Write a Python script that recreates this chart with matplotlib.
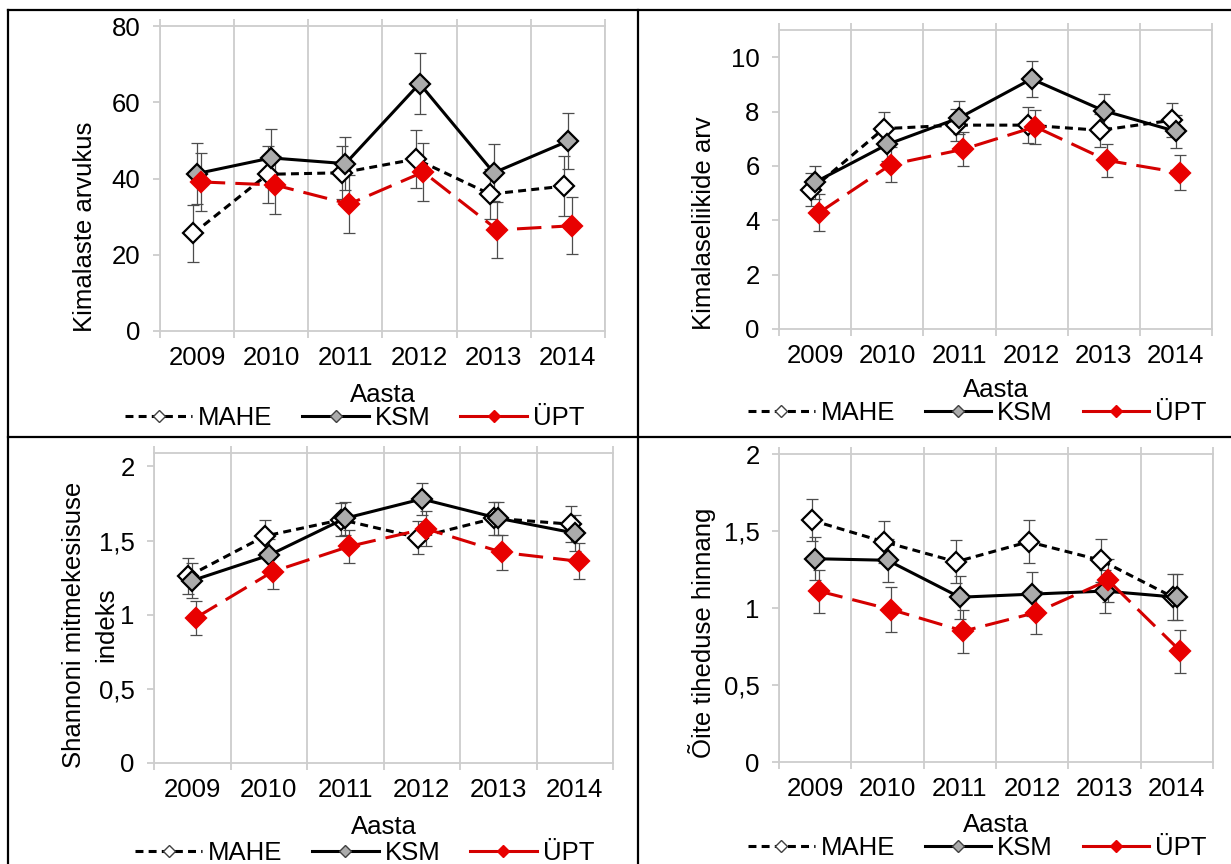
import numpy as np
import matplotlib
matplotlib.use("Agg")
import matplotlib.pyplot as plt
from matplotlib.lines import Line2D

plt.rcParams['font.family'] = ['Liberation Sans', 'DejaVu Sans']

years = ['2009', '2010', '2011', '2012', '2013', '2014']
series_names = ['MAHE', 'KSM', 'ÜPT']

# Kimalaste arvukus
mahe_arv = [25.6, 41.1, 41.5, 45.1, 35.9, 38.0]
ksm_arv = [41.3, 45.4, 43.9, 64.9, 41.5, 49.8]
upt_arv = [39.1, 38.3, 33.3, 41.7, 26.5, 27.6]
mahe_arv_se = [7.5, 7.5, 7.0, 7.7, 6.5, 7.9]
ksm_arv_se = [8.0, 7.7, 7.0, 7.9, 7.5, 7.3]
upt_arv_se = [7.6, 7.7, 7.7, 7.5, 7.3, 7.5]

# Kimalaseliikide arv
mahe_liik = [5.13, 7.37, 7.50, 7.50, 7.31, 7.68]
ksm_liik = [5.40, 6.79, 7.77, 9.20, 8.03, 7.27]
upt_liik = [4.27, 6.05, 6.61, 7.44, 6.20, 5.75]
mahe_liik_se = [0.62, 0.62, 0.60, 0.65, 0.60, 0.62]
ksm_liik_se = [0.60, 0.60, 0.60, 0.65, 0.60, 0.62]
upt_liik_se = [0.68, 0.65, 0.63, 0.63, 0.60, 0.64]

# Shannoni mitmekesisuse indeks
mahe_sh = [1.26, 1.53, 1.64, 1.52, 1.65, 1.61]
ksm_sh = [1.23, 1.40, 1.65, 1.78, 1.65, 1.55]
upt_sh = [0.98, 1.29, 1.46, 1.58, 1.42, 1.36]
mahe_sh_se = [0.12, 0.11, 0.11, 0.11, 0.11, 0.12]
ksm_sh_se = [0.12, 0.11, 0.11, 0.11, 0.11, 0.12]
upt_sh_se = [0.115, 0.12, 0.11, 0.12, 0.12, 0.12]

# Õite tiheduse hinnang
mahe_oie = [1.57, 1.43, 1.30, 1.43, 1.31, 1.07]
ksm_oie = [1.32, 1.31, 1.07, 1.09, 1.11, 1.07]
upt_oie = [1.11, 0.99, 0.85, 0.97, 1.18, 0.72]
mahe_oie_se = [0.135, 0.135, 0.14, 0.14, 0.14, 0.15]
ksm_oie_se = [0.14, 0.14, 0.14, 0.145, 0.14, 0.15]
upt_oie_se = [0.14, 0.145, 0.14, 0.14, 0.14, 0.14]

ticks_arv = [0, 20, 40, 60, 80]
ticks_liik = [0, 2, 4, 6, 8, 10]
ticks_idx = [0, 0.5, 1, 1.5, 2]
ticklabels_idx = ['0', '0,5', '1', '1,5', '2']

GRID = '#CDCDCD'
RED_LINE = '#D40000'
RED_FILL = '#E80000'
FS = 18.5

styles = [
    dict(color='black', dashes=(2.6, 1.7), leg_dashes=(2.6, 1.7),
         mfc='white', mec='black', leg_mec='#404040', off=-0.05, z=3),
    dict(color='black', dashes=None, leg_dashes=None,
         mfc='#ABABAB', mec='black', leg_mec='#404040', off=0.0, z=4),
    dict(color=RED_LINE, dashes=(8, 3.3), leg_dashes=None,
         mfc=RED_FILL, mec=RED_FILL, leg_mec=RED_FILL, off=0.05, z=5),
]


def draw_panel(ax, values, errors, ylim, yticks, yticklabels, ylabel,
               ylab_pos, leg_pos, aasta_y):
    x = np.arange(len(years)) + 0.5
    for vals, err, st in zip(values, errors, styles):
        xs = x + st['off']
        ax.errorbar(xs, vals, yerr=err, fmt='none', ecolor='#4D4D4D',
                    elinewidth=0.9, capsize=4, capthick=0.9, zorder=2)
        line, = ax.plot(xs, vals, color=st['color'], lw=2.2, marker='D',
                        ms=10.5, mfc=st['mfc'], mec=st['mec'], mew=1.6,
                        zorder=st['z'])
        if st['dashes']:
            line.set_dashes(st['dashes'])

    ax.set_xlim(0, len(years))
    ax.set_ylim(*ylim)
    ax.set_xticks(np.arange(len(years) + 1))
    ax.set_xticks(x, minor=True)
    ax.set_xticklabels([])
    ax.set_xticklabels(years, minor=True)
    ax.grid(axis='x', which='major', color=GRID, lw=1.3)
    ax.tick_params(axis='x', which='major', length=5, color=GRID, width=1.3,
                   top=True)
    ax.tick_params(axis='x', which='minor', length=0, pad=11, labelsize=FS)
    ax.set_yticks(yticks)
    ax.set_yticklabels(yticklabels)
    ax.tick_params(axis='y', length=5, color=GRID, width=1.3, pad=9,
                   labelsize=FS)
    for sp in ax.spines.values():
        sp.set_color(GRID)
        sp.set_linewidth(1.3)

    ax.set_ylabel(ylabel, fontsize=FS)
    ax.yaxis.set_label_coords(*ylab_pos)
    ax.yaxis.label.set_va('center')
    ax.set_xlabel('Aasta', fontsize=FS)
    ax.xaxis.set_label_coords(0.5, aasta_y)
    ax.xaxis.label.set_va('center')

    handles = []
    for st in styles:
        h = Line2D([], [], color=st['color'], lw=2.2, marker='D', ms=6,
                   mfc=st['mfc'], mec=st['leg_mec'], mew=1.0)
        if st['leg_dashes']:
            h.set_dashes(st['leg_dashes'])
        handles.append(h)
    ax.legend(handles, series_names, loc='center', bbox_to_anchor=leg_pos,
              ncol=3, frameon=False, fontsize=FS, handlelength=2.6,
              handletextpad=0.23, columnspacing=1.15, borderaxespad=0)


W, H = 1231, 864
fig = plt.figure(figsize=(W / 100, H / 100), dpi=100)


def box(l, r, t, b):
    return [l / W, 1 - b / H, (r - l) / W, (b - t) / H]


ax1 = fig.add_axes(box(160, 605, 26, 331))
ax2 = fig.add_axes(box(779, 1212, 30, 329))
ax3 = fig.add_axes(box(154, 613, 453, 763))
ax4 = fig.add_axes(box(779, 1213, 454, 762))

draw_panel(ax1, [mahe_arv, ksm_arv, upt_arv],
           [mahe_arv_se, ksm_arv_se, upt_arv_se],
           (0, 80), ticks_arv, [str(t) for t in ticks_arv],
           'Kimalaste arvukus', (-0.169, 0.341), (0.438, -0.285), -0.21)
draw_panel(ax2, [mahe_liik, ksm_liik, upt_liik],
           [mahe_liik_se, ksm_liik_se, upt_liik_se],
           (0, 11), ticks_liik, [str(t) for t in ticks_liik],
           'Kimalaseliikide arv', (-0.173, 0.355), (0.458, -0.281), -0.204)
draw_panel(ax3, [mahe_sh, ksm_sh, upt_sh],
           [mahe_sh_se, ksm_sh_se, upt_sh_se],
           (0, 2.09), ticks_idx, ticklabels_idx,
           'Shannoni mitmekesisuse', (-0.174, 0.445), (0.459, -0.29), -0.206)
# second line of the Shannon axis title
ax3.text(-0.105, 0.445, 'indeks', transform=ax3.transAxes, rotation=90,
         ha='center', va='center', fontsize=FS)
draw_panel(ax4, [mahe_oie, ksm_oie, upt_oie],
           [mahe_oie_se, ksm_oie_se, upt_oie_se],
           (0, 2), ticks_idx, ticklabels_idx,
           'Õite tiheduse hinnang', (-0.177, 0.419), (0.457, -0.279), -0.205)

# table frame around the four panels
frame = dict(color='black', lw=1.6, transform=fig.transFigure)
fig.add_artist(Line2D([8 / W, 1], [1 - 10 / H, 1 - 10 / H], **frame))
fig.add_artist(Line2D([8 / W, 8 / W], [0, 1 - 10 / H], **frame))
fig.add_artist(Line2D([638 / W, 638 / W], [0, 1 - 10 / H], **frame))
fig.add_artist(Line2D([8 / W, 1], [1 - 437 / H, 1 - 437 / H], **frame))

fig.savefig('out.png', dpi=100)
